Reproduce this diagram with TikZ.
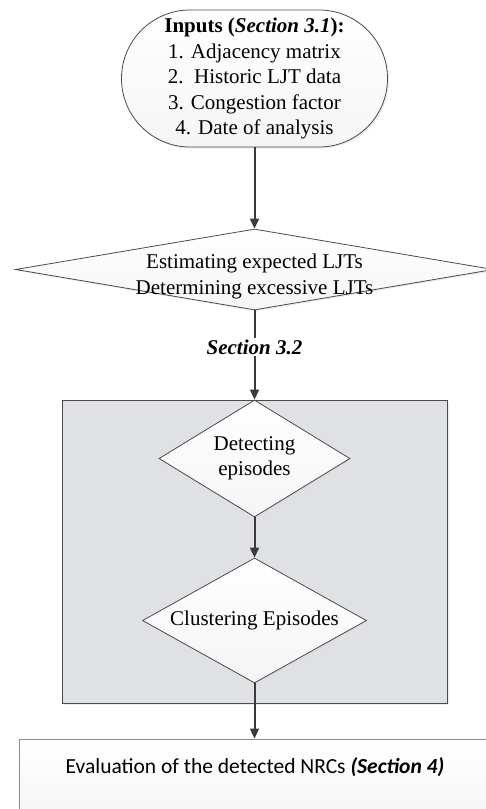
\documentclass[tikz,border=0pt]{standalone}
\usepackage{fontspec}
\setmainfont{Liberation Serif}
\newfontfamily\carlito{Carlito}
\usetikzlibrary{shapes.geometric,shapes.misc,arrows.meta,shadows}
\definecolor{boxgray}{RGB}{224,225,228}
\definecolor{linegray}{RGB}{58,58,58}
\definecolor{edgegray}{RGB}{75,75,75}
\begin{document}
\begin{tikzpicture}[x=1pt,y=-1pt,
  every node/.style={font=\fontsize{21}{25.5}\selectfont},
  softshadow/.style={drop shadow={shadow xshift=1.5pt, shadow yshift=-1.5pt, fill=black!15, opacity=0.5}},
  shapefill/.style={top color=white, bottom color=black!4, draw=edgegray, line width=0.8pt, softshadow},
  flow/.style={draw=linegray, line width=2pt, -{Triangle[length=10pt,width=9pt]}},
  diamondbox/.style={diamond, shapefill, inner sep=0pt},
]
\useasboundingbox (0,0) rectangle (485,809);

% inputs
\node[rounded rectangle, shapefill, minimum width=266pt, minimum height=137pt, inner sep=0pt, align=center] (inp) at (254.5,78.5)
  {\textbf{Inputs (\textit{Section 3.1}):}\\ 1. Adjacency matrix\\ 2.\ \ Historic LJT data\\ 3. Congestion factor\\ 4. Date of analysis};

% estimation diamond
\node[diamondbox, minimum width=478pt, minimum height=81pt,
  label={[align=center, yshift=-7pt]center:{Estimating expected LJTs\\Determining excessive LJTs}}] (est) at (254.5,269.5) {};

% grey group box
\node[draw=edgegray, fill=boxgray, line width=0.9pt, minimum width=385pt, minimum height=303pt, inner sep=0pt, softshadow] (grp) at (254.5,551.5) {};

% detecting diamond
\node[diamondbox, minimum width=191pt, minimum height=117pt,
  label={[align=center]center:{Detecting\\episodes}}] (det) at (254.5,458.5) {};

% clustering diamond
\node[diamondbox, minimum width=224pt, minimum height=125pt,
  label={[align=center]center:{Clustering Episodes}}] (clu) at (254.5,620.5) {};

% evaluation box
\node[draw=black!45, top color=white, bottom color=black!5, line width=0.9pt, minimum width=472pt, minimum height=110pt, inner sep=0pt] (ev) at (255,794) {};
\node[font=\carlito\fontsize{21.5}{26}\selectfont] (evtxt) at (255,767) {Evaluation of the detected NRCs \textbf{\textit{(Section 4)}}};

% connectors
\draw[flow] (inp.south) -- (est.north);
\draw[flow] (est.south) -- node[pos=0.41, fill=white, inner sep=2pt, font=\fontsize{21}{25.5}\selectfont\bfseries\itshape] (sec) {Section 3.2} (grp.north);
\draw[flow] (det.south) -- (clu.north);
\draw[flow] (clu.south) -- (clu.south |- ev.north);
\end{tikzpicture}
\end{document}
